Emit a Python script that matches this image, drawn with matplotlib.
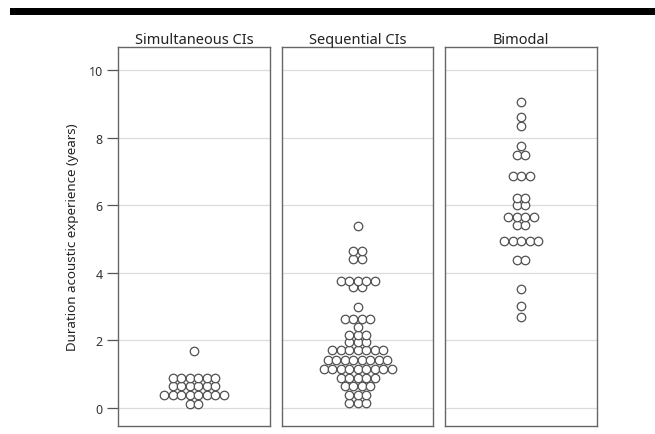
import numpy as np
import matplotlib
matplotlib.use("Agg")
import matplotlib.pyplot as plt
from matplotlib.patches import Rectangle

plt.rcParams['font.family'] = ['Noto Sans', 'DejaVu Sans']

# duration of acoustic experience (years), binned rows and how many children per row
groups = ["Simultaneous CIs", "Sequential CIs", "Bimodal"]

simultaneous_levels = [0.12, 0.38, 0.65, 0.88, 1.70]
simultaneous_counts = [2, 8, 6, 6, 1]

sequential_levels = [0.15, 0.38, 0.65, 0.88, 1.15, 1.42, 1.72, 1.95, 2.16,
                     2.40, 2.63, 3.00, 3.58, 3.76, 4.42, 4.65, 5.38]
sequential_counts = [3, 3, 4, 5, 9, 8, 7, 3, 3, 1, 4, 1, 2, 5, 2, 2, 1]

bimodal_levels = [2.69, 3.02, 3.52, 4.38, 4.94, 5.41, 5.65, 6.02, 6.22,
                  6.87, 7.50, 7.75, 8.35, 8.60, 9.05]
bimodal_counts = [1, 1, 1, 2, 5, 2, 4, 2, 2, 3, 2, 1, 1, 1, 1]

yticks = [0, 2, 4, 6, 8, 10]

W, H = 655, 435
fig = plt.figure(figsize=(W / 100, H / 100), dpi=100)

# black rule across the top
fig.add_artist(Rectangle((10 / W, 1 - 16 / H), 1 - 10 / W, 7 / H,
                         transform=fig.transFigure, color="black", lw=0))

panels = [(118, 152), (282, 151), (445, 152)]
top_px, bot_px = 48, 427
marker_px = 8.5

data = [(simultaneous_levels, simultaneous_counts),
        (sequential_levels, sequential_counts),
        (bimodal_levels, bimodal_counts)]

for i, ((x0, w), name, (levels, counts)) in enumerate(zip(panels, groups, data)):
    ax = fig.add_axes([x0 / W, 1 - bot_px / H, w / W, (bot_px - top_px) / H])
    ax.set_xlim(-1, 1)
    ax.set_ylim(-0.53, 10.68)
    for y in yticks:
        ax.axhline(y, color="#dcdcdc", lw=0.9, zorder=0)

    # lay each row out side by side, one marker width apart
    dx = 2 * marker_px / w
    xs, ys = [], []
    for v, n in zip(levels, counts):
        for k in range(n):
            xs.append((k - (n - 1) / 2) * dx)
            ys.append(v)
    ax.plot(xs, ys, "o", ms=marker_px * 0.72, mfc="white", mec="#505050",
            mew=0.9, ls="none", zorder=3)

    ax.set_title(name, fontsize=10.5, color="#222222", pad=3)
    ax.set_xticks([])
    for s in ax.spines.values():
        s.set_color("#666666")
        s.set_linewidth(1.0)
    if i == 0:
        ax.set_yticks(yticks)
        ax.tick_params(axis="y", length=8, width=0.9, color="#555555",
                       labelsize=9, labelcolor="#333333", pad=3)
        ax.set_ylabel("Duration acoustic experience (years)", fontsize=9.6,
                      color="#222222", labelpad=7)
    else:
        ax.set_yticks([])

fig.savefig("out.png", dpi=100, facecolor="white")
